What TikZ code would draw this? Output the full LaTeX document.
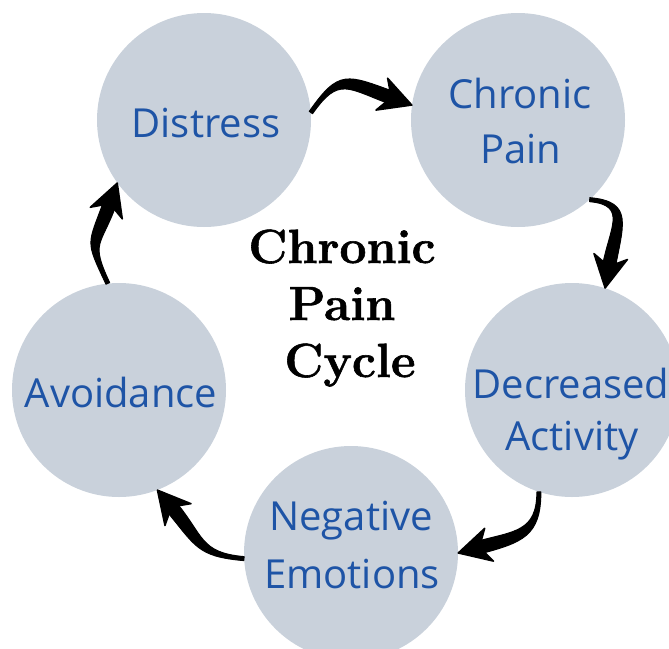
\documentclass[tikz,border=0pt]{standalone}
\usepackage{fontspec}
\newfontfamily\labelfont{Open Sans}
\newfontfamily\titlefont{Latin Modern Roman}[BoldFeatures={FakeBold=1.2}]
\usetikzlibrary{arrows.meta,calc}
\definecolor{circfill}{RGB}{201,209,219}
\definecolor{labelblue}{RGB}{30,84,166}
\tikzset{
  circ/.style={circle, fill=circfill, draw=none, minimum size=214pt, inner sep=0pt},
  lbl/.style={font=\labelfont\fontsize{40}{48}\selectfont, text=labelblue, anchor=base, inner sep=0pt},
  ttl/.style={font=\titlefont\bfseries\fontsize{48}{57}\selectfont, text=black, anchor=base, inner sep=0pt},
  arrowbody/.style={fill=black, draw=black, line width=1pt, line join=round},
  arrowhead/.style={fill=black, draw=black, line width=1.5pt, line join=round},
}
% #1 start anchor, #2 end anchor, #3 out angle, #4 in angle, #5 looseness
\newcommand\cyclearrow[5]{%
  \coordinate (tl) at ($(#1)+({#3+90}:2)$);
  \coordinate (tr) at ($(#1)+({#3-90}:2)$);
  \coordinate (hb) at ($(#2)+(#4:20)$);
  \coordinate (hL) at ($(hb)+({#4-90}:6.5)$);
  \coordinate (hR) at ($(hb)+({#4+90}:6.5)$);
  \coordinate (bl) at ($(#2)+(#4:32)+({#4+90}:17)$);
  \coordinate (br) at ($(#2)+(#4:32)+({#4-90}:17)$);
  \coordinate (ins) at ($(#2)+(#4:22)$);
  \filldraw[arrowbody] (tl) to[out=#3,in=#4,looseness=#5] (hL) -- (hR)
      to[out=#4,in=#3,looseness=#5] (tr) -- cycle;
  \filldraw[arrowhead] (#2) -- (bl) -- (ins) -- (br) -- cycle;
}
\begin{document}
\begin{tikzpicture}[x=1pt,y=1pt]
  \useasboundingbox (0,0) rectangle (669,-648);
  \fill[white] (0,0) rectangle (669,-648);
  \clip (0,0) rectangle (669,-648);

  % circles
  \node[circ] (D)  at (204,-120) {};
  \node[circ] (CP) at (518,-120) {};
  \node[circ] (DA) at (572,-390) {};
  \node[circ] (NE) at (351,-553) {};
  \node[circ] (A)  at (119,-390) {};

  % labels
  \node[lbl] (Dl)  at (206,-137) {Distress};
  \node[lbl] (CPa) at (520,-108) {Chronic};
  \node[lbl] (CPb) at (521,-163) {Pain};
  \node[lbl] (DAa) at (571,-398) {Decreased};
  \node[lbl] (DAb) at (572,-450) {Activity};
  \node[lbl] (NEa) at (351,-530) {Negative};
  \node[lbl] (NEb) at (352,-588) {Emotions};
  \node[lbl] (Al)  at (121,-407) {Avoidance};

  % title
  \node[ttl] (T1) at (342,-263) {Chronic};
  \node[ttl] (T2) at (342,-320) {Pain};
  \node[ttl] (T3) at (350,-377) {Cycle};

  % arrows
  \cyclearrow{D.4}{CP.172}{55}{160}{1.5}
  \cyclearrow{CP.-48}{DA.72}{-5}{80}{1.5}
  \cyclearrow{DA.-108}{NE.0}{-90}{15}{1.3}
  \cyclearrow{NE.183}{A.-69}{175}{-50}{1.3}
  \cyclearrow{A.96}{D.216}{115}{250}{1.5}
\end{tikzpicture}
\end{document}
